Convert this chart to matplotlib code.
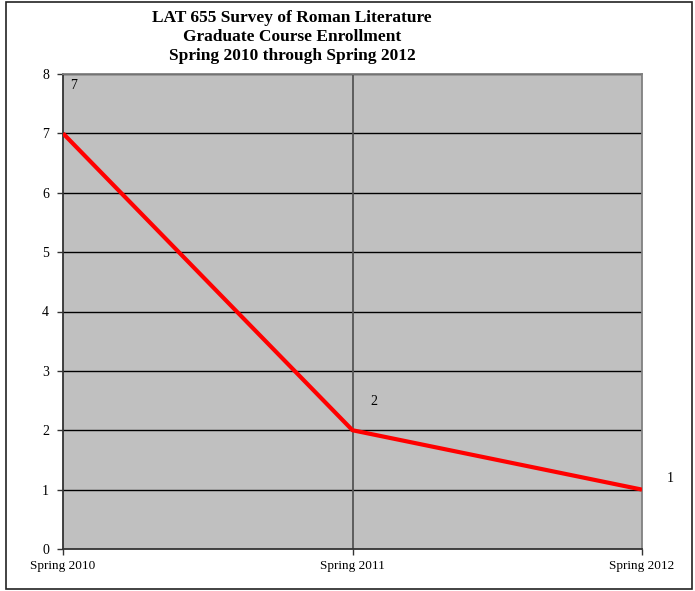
import matplotlib.pyplot as plt
from matplotlib.patches import Rectangle

terms = ['Spring 2010', 'Spring 2011', 'Spring 2012']
enrollment = [7, 2, 1]
title_lines = ['LAT 655 Survey of Roman Literature',
               'Graduate Course Enrollment',
               'Spring 2010 through Spring 2012']
label_offsets = [(5, 30), (13, 16), (17.5, 3)]  # points, where the data labels sit

plt.rcParams['font.family'] = ['Liberation Serif', 'DejaVu Serif']

fig = plt.figure(figsize=(6.95, 5.91), dpi=100, facecolor='white')
ax = fig.add_axes([63 / 695, 42 / 591, 579 / 695, 475 / 591])
ax.set_facecolor('#c0c0c0')

x = list(range(len(terms)))
ax.set_xlim(0, len(terms) - 1)
ax.set_ylim(0, 8)

for yv in range(1, 9):
    ax.axhline(yv, color='black', linewidth=1.0, zorder=1)
ax.axvline(1, color='#555555', linewidth=1.3, zorder=1)

ax.plot(x, enrollment, color='#ff0000', linewidth=3, solid_capstyle='butt', zorder=3)

for xi, val, off in zip(x, enrollment, label_offsets):
    ax.annotate(str(val), (xi, val), xytext=off, textcoords='offset points',
                ha='left', va='bottom', fontsize=10, annotation_clip=False)

ax.set_xticks(x)
ax.set_xticklabels(terms, fontsize=9.5)
ax.set_yticks(range(0, 9))
ax.tick_params(axis='y', length=4, width=1, color='#333333', labelsize=10, pad=6)
ax.tick_params(axis='x', length=4, width=1, color='#333333', pad=4)

ax.spines['left'].set_color('#333333')
ax.spines['bottom'].set_color('#333333')
ax.spines['top'].set_color('#808080')
ax.spines['right'].set_color('#808080')
for s in ax.spines.values():
    s.set_linewidth(1.3)

for i, line in enumerate(title_lines):
    fig.text(292 / 695, 1 - (18 + 19 * i) / 591, line,
             ha='center', va='center', fontsize=12.5, fontweight='bold')

fig.patches.append(Rectangle((6 / 695, 2 / 591), 686 / 695, 587 / 591,
                             transform=fig.transFigure, fill=False,
                             edgecolor='#222222', linewidth=1.2))

plt.savefig('out.png', dpi=100, facecolor='white')
